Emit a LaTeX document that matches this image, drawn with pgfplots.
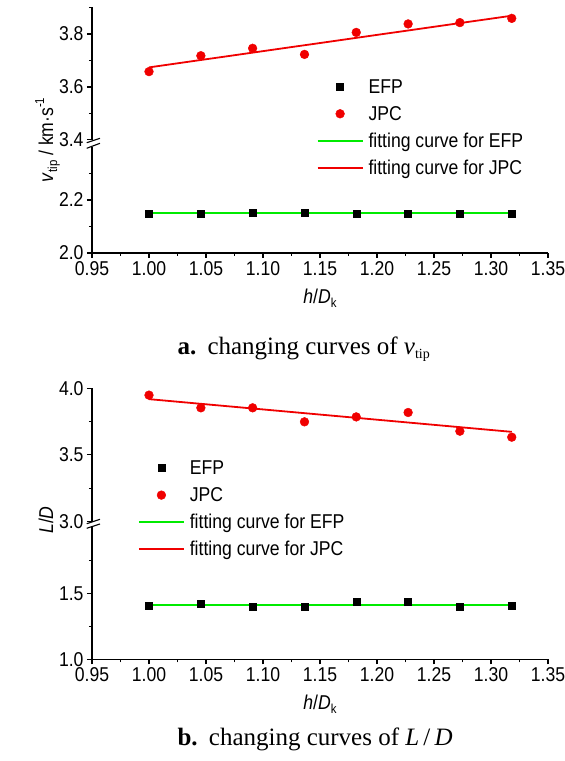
\documentclass[border=0pt]{standalone}
\usepackage{fontspec}
\setmainfont{Liberation Sans}[FakeStretch=0.88]
\newfontfamily\capfont{Liberation Serif}
\usepackage{pgfplots}
\pgfplotsset{compat=1.18}
\definecolor{fitgreen}{RGB}{0,235,0}
\definecolor{ptred}{RGB}{240,0,0}
\newcommand{\fs}{\fontsize{20}{24}\selectfont}
\newcommand{\sfs}{\fontsize{13}{14}\selectfont}
\newcommand{\cfs}{\capfont\fontsize{25}{28}\selectfont}
\newcommand{\csfs}{\capfont\fontsize{14}{15}\selectfont}

\pgfplotsset{
  brk/.style={
    scale only axis, width=456pt, xmin=0.95, xmax=1.35,
    axis y line*=left, clip=false,
    tick align=outside, major tick length=5pt, minor tick length=3pt,
    axis line style={line width=1.2pt, black},
    every tick/.append style={line width=1.1pt, black},
    tick label style={font=\fs},
    /pgf/number format/assume math mode=true,
    y tick label style={/pgf/number format/.cd, fixed, fixed zerofill, precision=1, /tikz/.cd},
    x tick label style={/pgf/number format/.cd, fixed, fixed zerofill, precision=2, /tikz/.cd},
    xtick={0.95,1,1.05,1.1,1.15,1.2,1.25,1.3,1.35},
    minor xtick={0.975,1.025,1.075,1.125,1.175,1.225,1.275,1.325},
  },
  lowerax/.style={brk, axis x line*=bottom},
  upperax/.style={brk, axis x line=none},
  mkline/.style={line width=1.8pt, no marks},
  efp/.style={only marks, mark=square*, mark size=3.5pt, black},
  jpc/.style={only marks, mark=*, mark size=4.4pt, ptred, mark options={draw=ptred, fill=ptred}},
  lgmark/.style={legend image code/.code={\draw[##1, mark repeat=2, mark phase=2] plot coordinates {(0pt,0pt) (22.5pt,0pt) (45pt,0pt)};}},
  lgline/.style={legend image code/.code={\draw[##1] (0pt,0pt) -- (45pt,0pt);}},
  mylegend/.style={
    legend cell align=left,
    legend style={draw=none, fill=none, inner sep=0pt, outer sep=0pt,
      at={#1}, anchor=north west, row sep=6pt, column sep=3pt,
      nodes={inner xsep=2pt, inner ysep=0pt, text height=17pt, text depth=4pt, font=\fs}},
  },
}

\begin{document}
\begin{tikzpicture}
\useasboundingbox (0pt,0pt) rectangle (565pt,761pt);

% ---------------- panel a, lower part ----------------
\begin{axis}[lowerax, at={(92pt,508pt)}, anchor=south west, height=106pt,
  ymin=2.0, ymax=2.4, ytick={2.0,2.2}, minor ytick={2.1,2.3}]
\addplot[mkline, color=fitgreen] coordinates {(1.0,2.15) (1.3182,2.15)};
\addplot[efp] coordinates {(1.0,2.15) (1.0455,2.15) (1.0909,2.151) (1.1364,2.151) (1.1818,2.15) (1.2273,2.15) (1.2727,2.15) (1.3182,2.15)};
\end{axis}

% ---------------- panel a, upper part ----------------
\begin{axis}[upperax, at={(92pt,621pt)}, anchor=south west, height=132.5pt,
  ymin=3.4, ymax=3.9, ytick={3.4,3.6,3.8}, minor ytick={3.5,3.7,3.9},
  mylegend={(0.4928,0.4808)}]
\addplot[mkline, color=ptred, forget plot] coordinates {(1.0,3.674) (1.3182,3.869)};
\addplot[jpc, forget plot] coordinates {(1.0,3.658) (1.0455,3.718) (1.0909,3.746) (1.1364,3.723) (1.1818,3.806) (1.2273,3.838) (1.2727,3.843) (1.3182,3.859)};
\addlegendimage{efp, lgmark}
\addlegendentry{EFP}
\addlegendimage{jpc, lgmark}
\addlegendentry{JPC}
\addlegendimage{mkline, color=fitgreen, lgline}
\addlegendentry{fitting curve for EFP}
\addlegendimage{mkline, color=ptred, lgline}
\addlegendentry{fitting curve for JPC}
\end{axis}

% break marks panel a
\draw[white, fill=white] (84pt,614.5pt) rectangle (102pt,620.5pt);
\draw[line width=1.1pt] (86.7pt,612.7pt) -- (100pt,617.7pt);
\draw[line width=1.1pt] (86.7pt,618.3pt) -- (100pt,622.7pt);

% labels panel a
\node[rotate=90, anchor=base, font=\fs, inner sep=0pt] at (53pt,621pt)
  {\textit{v}\raisebox{-4pt}{\sfs tip} / km·s\raisebox{9pt}{\sfs -1}};
\node[anchor=base, font=\fs, inner sep=0pt] at (320pt,457pt)
  {\textit{h}/\textit{D}\raisebox{-4pt}{\sfs k}};
\node[anchor=base west, inner sep=0pt] at (177.3pt,406pt)
  {\cfs\textbf{a.}\hspace{0.45em}changing curves of \textit{v}\raisebox{-4pt}{\csfs tip}};

% ---------------- panel b, lower part ----------------
\begin{axis}[lowerax, at={(92pt,101.7pt)}, anchor=south west, height=132pt,
  ymin=1.0, ymax=2.0, ytick={1.0,1.5}, minor ytick={1.25,1.75}]
\addplot[mkline, color=fitgreen] coordinates {(1.0,1.409) (1.3182,1.409)};
\addplot[efp] coordinates {(1.0,1.407) (1.0455,1.424) (1.0909,1.396) (1.1364,1.396) (1.1818,1.434) (1.2273,1.434) (1.2727,1.396) (1.3182,1.407)};
\end{axis}

% ---------------- panel b, upper part ----------------
\begin{axis}[upperax, at={(92pt,239.3pt)}, anchor=south west, height=133.5pt,
  ymin=3.0, ymax=4.0, ytick={3.0,3.5,4.0}, minor ytick={3.25,3.75},
  mylegend={(0.1009,0.480)}]
\addplot[mkline, color=ptred, forget plot] coordinates {(1.0,3.918) (1.3182,3.673)};
\addplot[jpc, forget plot] coordinates {(1.0,3.948) (1.0455,3.853) (1.0909,3.853) (1.1364,3.748) (1.1818,3.785) (1.2273,3.818) (1.2727,3.678) (1.3182,3.633)};
\addlegendimage{efp, lgmark}
\addlegendentry{EFP}
\addlegendimage{jpc, lgmark}
\addlegendentry{JPC}
\addlegendimage{mkline, color=fitgreen, lgline}
\addlegendentry{fitting curve for EFP}
\addlegendimage{mkline, color=ptred, lgline}
\addlegendentry{fitting curve for JPC}
\end{axis}

% break marks panel b
\draw[white, fill=white] (84pt,234.5pt) rectangle (102pt,238.6pt);
\draw[line width=1.1pt] (86.7pt,232.7pt) -- (100pt,237pt);
\draw[line width=1.1pt] (86.7pt,237.3pt) -- (100pt,241.7pt);

% labels panel b
\node[rotate=90, anchor=base, font=\fs, inner sep=0pt] at (53pt,241pt)
  {\textit{L}/\textit{D}};
\node[anchor=base, font=\fs, inner sep=0pt] at (320pt,51pt)
  {\textit{h}/\textit{D}\raisebox{-4pt}{\sfs k}};
\node[anchor=base west, inner sep=0pt] at (177.3pt,16pt)
  {\cfs\textbf{b.}\hspace{0.45em}changing curves of \textit{L}\,/\,\textit{D}};
\end{tikzpicture}
\end{document}
